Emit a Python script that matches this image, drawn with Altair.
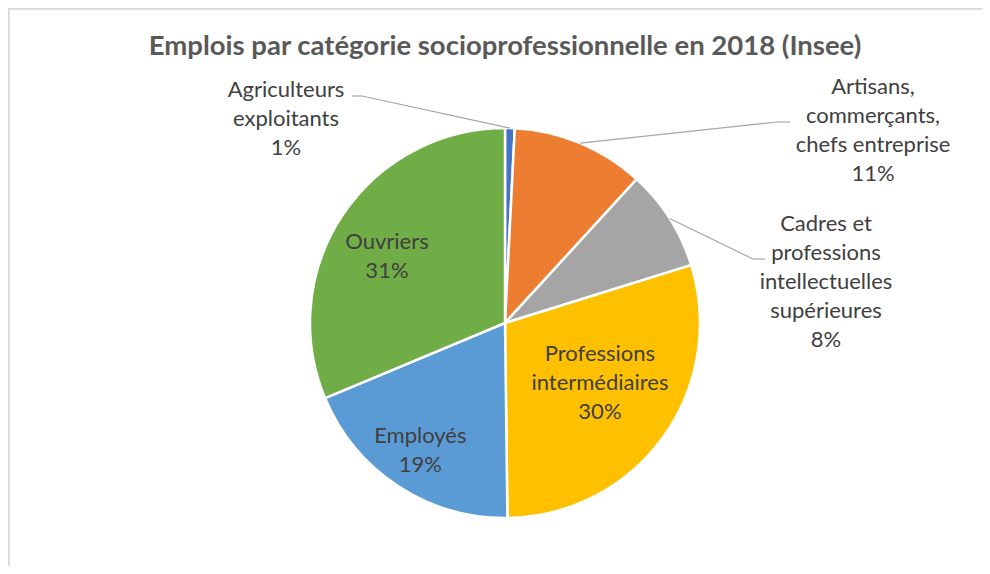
import math
import altair as alt
import pandas as pd

# ---- data ----
categories = [
    "Agriculteurs exploitants",
    "Artisans, commerçants, chefs entreprise",
    "Cadres et professions intellectuelles supérieures",
    "Professions intermédiaires",
    "Employés",
    "Ouvriers",
]
label_lines = [
    ["Agriculteurs", "exploitants"],
    ["Artisans,", "commerçants,", "chefs entreprise"],
    ["Cadres et", "professions", "intellectuelles", "supérieures"],
    ["Professions", "intermédiaires"],
    ["Employés"],
    ["Ouvriers"],
]
shares = [0.8, 11.0, 8.4, 29.6, 18.9, 31.3]
colors = ["#4472C4", "#ED7D31", "#A5A5A5", "#FFC000", "#5B9BD5", "#70AD47"]
title_text = "Emplois par catégorie socioprofessionnelle en 2018 (Insee)"

# ---- style / layout ----
W, H = 974, 558
CX, CY, R = 497, 315, 195
FONT = "Lato"
LABEL_SIZE = 22
LINE_H = 29
TXT = "#404040"

# label placement (style): inside -> (radius fraction, angle tweak in degrees);
# outside -> block centre offset from pie centre + leader path points
placement = {
    0: {"out": (-219, -204), "leader": [(-153, -227), (-143, -227)]},
    1: {"out": (368, -193), "leader": [(285, -201), (272, -201)]},
    2: {"out": (321, -41), "leader": [(260, -64), (248, -64)]},
    3: {"in": (0.576, -3.7)},
    4: {"in": (0.785, 0.3)},
    5: {"in": (0.696, -4.1)},
}

total = sum(shares)
rows, lab_rows, rule_rows = [], [], []
cum = 0.0
for i, (c, s) in enumerate(zip(categories, shares)):
    rows.append({"cat": c, "share": s, "idx": i})
    mid = (cum + s / 2) / total * 2 * math.pi
    cum += s
    lines = label_lines[i] + [f"{round(s / total * 100)}%"]
    p = placement[i]
    if "in" in p:
        frac, dang = p["in"]
        r = frac * R
        a = mid + math.radians(dang)
        lx, ly = CX + r * math.sin(a), CY - r * math.cos(a)
    else:
        lx, ly = CX + p["out"][0], CY + p["out"][1]
        ex, ey = CX + R * math.sin(mid), CY - R * math.cos(mid)
        pts = [(ex, ey)] + [(CX + a, CY + b) for a, b in p["leader"][::-1]]
        for (x1, y1), (x2, y2) in zip(pts[:-1], pts[1:]):
            rule_rows.append({"x": x1, "y": y1, "x2": x2, "y2": y2})
    # vega puts the first line on the anchor: shift so the block is centred
    ly -= (len(lines) - 1) / 2 * LINE_H
    lab_rows.append({"cat": c, "lines": lines, "lx": lx, "ly": ly})

df = pd.DataFrame(rows)
labels = pd.DataFrame(lab_rows)
leaders = pd.DataFrame(rule_rows)

pie = alt.Chart(df).mark_arc(outerRadius=R, stroke="white", strokeWidth=2.5).encode(
    theta=alt.Theta("share:Q", stack=True),
    order=alt.Order("idx:Q"),
    color=alt.Color("cat:N", scale=alt.Scale(domain=categories, range=colors), legend=None),
    x=alt.value(CX),
    y=alt.value(CY),
)

lead = alt.Chart(leaders).mark_rule(color="#A6A6A6", strokeWidth=1.2).encode(
    x=alt.X("x:Q", scale=None, axis=None),
    y=alt.Y("y:Q", scale=None, axis=None),
    x2="x2:Q",
    y2="y2:Q",
)

text = alt.Chart(labels).mark_text(
    font=FONT, fontSize=LABEL_SIZE, lineHeight=LINE_H, color=TXT,
    align="center", baseline="middle",
).encode(
    x=alt.X("lx:Q", scale=None, axis=None),
    y=alt.Y("ly:Q", scale=None, axis=None),
    text="lines",
)

title = alt.Chart(pd.DataFrame({"t": [title_text]})).mark_text(
    font=FONT, fontSize=27.5, fontWeight="bold", color="#595959",
    align="center", baseline="alphabetic",
).encode(x=alt.value(CX), y=alt.value(47), text="t:N")

frame_left = alt.Chart(df).mark_rule(color="#D9D9D9", strokeWidth=1.5).encode(
    x=alt.value(0.5), y=alt.value(0), y2=alt.value(H)
)
frame_top = alt.Chart(df).mark_rule(color="#D9D9D9", strokeWidth=1.5).encode(
    x=alt.value(0), x2=alt.value(W), y=alt.value(0.5)
)

chart = alt.layer(frame_left, frame_top, pie, lead, text, title).properties(
    width=W,
    height=H,
    padding=0,
    autosize=alt.AutoSizeParams(type="none"),
).configure_view(stroke=None)

chart.save("out.html", embed_options={"renderer": "svg", "actions": False})
